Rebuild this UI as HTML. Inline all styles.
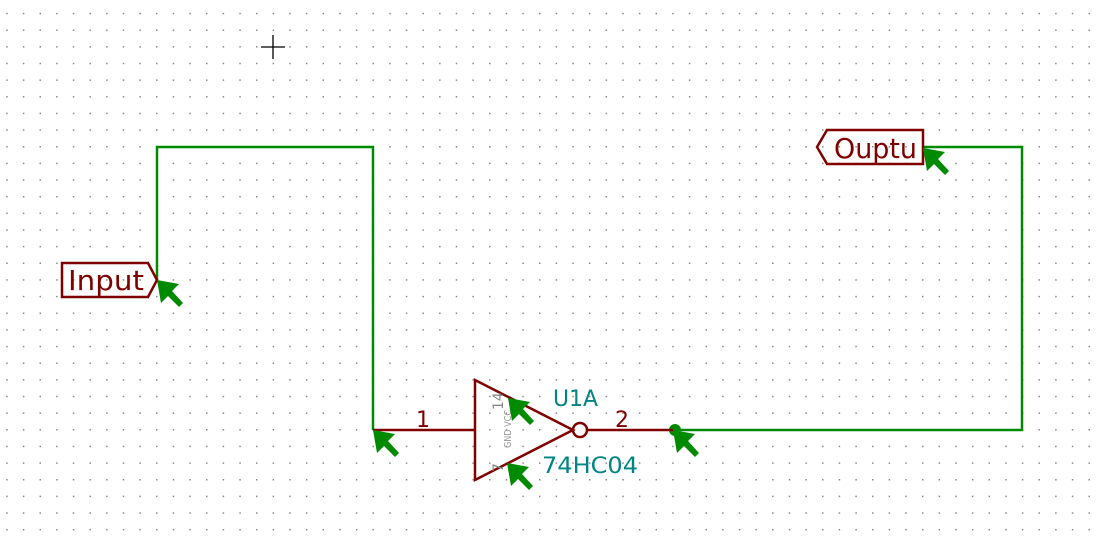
<!DOCTYPE html>
<html><head><meta charset="utf-8"><style>
html,body{margin:0;padding:0;background:#fff;}
svg{display:block;}
text{font-family:"DejaVu Sans","Liberation Sans",sans-serif;}
</style></head><body>
<svg width="1099" height="537" viewBox="0 0 1099 537" xmlns="http://www.w3.org/2000/svg">
<defs>
<pattern id="g" x="6.2" y="12.8" width="16.65" height="16.65" patternUnits="userSpaceOnUse">
<rect x="0" y="0" width="1.5" height="1.5" fill="#888"/>
</pattern>
<g id="m"><path d="M0,0 L22,4 L15,11 L26,23 L22,27 L11,16 L4,23 Z" fill="#008a00"/></g>
</defs>
<rect width="1099" height="537" fill="url(#g)"/>
<path d="M261,47 H285 M273,35 V59" stroke="#000" stroke-width="1.3"/>
<g fill="none" stroke="#008a00" stroke-width="2.5">
<path d="M157,280 V147 H373 V430"/>
<path d="M673,430 H1022 V147 H923"/>
</g>
<circle cx="675" cy="430" r="6" fill="#008a00"/>
<g fill="none" stroke="#800000" stroke-width="2.5">
<path d="M373,430 H475"/>
<path d="M475,380 L573,430 L475,480 Z"/>
<circle cx="580" cy="430" r="7"/>
<path d="M587,430 H673"/>
</g>
<text x="416" y="427" font-size="22" fill="#800000">1</text>
<text x="615" y="427" font-size="22" fill="#800000">2</text>
<text x="553" y="406" font-size="22" fill="#008484" textLength="45" lengthAdjust="spacingAndGlyphs">U1A</text>
<text x="542" y="473" font-size="22" fill="#008484" textLength="96" lengthAdjust="spacingAndGlyphs">74HC04</text>
<text transform="translate(511,448) rotate(-90)" font-size="10" fill="#999" textLength="38" lengthAdjust="spacingAndGlyphs">GND VCC</text>
<text transform="translate(503,410) rotate(-90)" font-size="14" fill="#888">14</text>
<text transform="translate(503,472) rotate(-90)" font-size="14" fill="#888">7</text>
<path d="M62,263 H148 L157,280 L148,297 H62 Z" fill="none" stroke="#800000" stroke-width="2.5"/>
<text x="68" y="290" font-size="28" fill="#800000" textLength="76" lengthAdjust="spacingAndGlyphs">Input</text>
<path d="M923,130 H827 L817,147 L827,164 H923 Z" fill="none" stroke="#800000" stroke-width="2.5"/>
<text x="834" y="158" font-size="28" fill="#800000" textLength="83" lengthAdjust="spacingAndGlyphs">Ouptu</text>
<use href="#m" x="157" y="280"/>
<use href="#m" x="373" y="430"/>
<use href="#m" x="508" y="398"/>
<use href="#m" x="507" y="463"/>
<use href="#m" x="673" y="430"/>
<use href="#m" x="923" y="148"/>
</svg>
</body></html>
